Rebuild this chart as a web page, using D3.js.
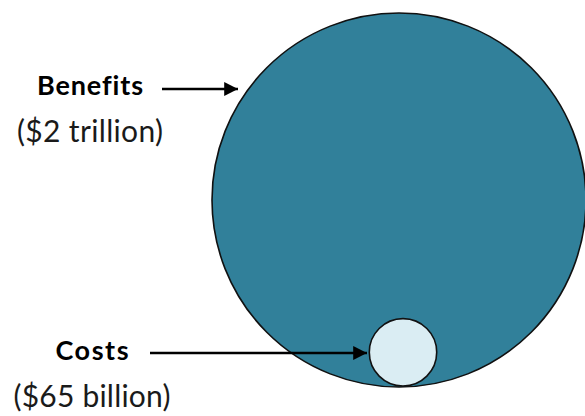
<!DOCTYPE html>
<html><head><meta charset="utf-8">
<script src="https://cdn.jsdelivr.net/npm/d3@7"></script>
<style>html,body{margin:0;padding:0;background:#fff;}svg{display:block;}text{font-variant-ligatures:none;}</style>
</head><body>
<svg id="chart" width="585" height="416"></svg>
<script>
const categories = ["Benefits", "Costs"];
const values = [2000, 65]; // billions of dollars
const amountLabels = ["($2 trillion)", "($65 billion)"];

const svg = d3.select("#chart");
const r = d3.scaleSqrt().domain([0, 2000]).range([0, 187]);
const fills = ["#31809a", "#daedf3"];

const bigC = {x: 399, y: 200};
const rb = r(values[0]), rs = r(values[1]);
const centers = [bigC, {x: 403, y: bigC.y + rb - rs - 1}];

svg.append("defs").append("marker")
  .attr("id", "ah").attr("viewBox", "0 0 10 10")
  .attr("refX", 10).attr("refY", 5)
  .attr("markerWidth", 7).attr("markerHeight", 6)
  .attr("markerUnits", "strokeWidth").attr("orient", "auto")
  .append("path").attr("d", "M0,0 L10,5 L0,10 Z").attr("fill", "#000");

svg.selectAll("circle.b").data(values).join("circle")
  .attr("class", "b")
  .attr("cx", (d, i) => centers[i].x)
  .attr("cy", (d, i) => centers[i].y)
  .attr("r", d => r(d))
  .attr("fill", (d, i) => fills[i])
  .attr("stroke", "#111").attr("stroke-width", 1.6);

const labelPos = [
  {x: 90, y1: 95, y2: 142, w1: 106, w2: 146, ax1: 162, ax2: 238, ay: 89},
  {x: 92, y1: 360, y2: 407, w1: 73, w2: 157, ax1: 150, ax2: 367, ay: 353}
];

const g = svg.selectAll("g.lab").data(categories).join("g").attr("class", "lab");
g.append("text")
  .attr("x", (d, i) => labelPos[i].x).attr("y", (d, i) => labelPos[i].y1)
  .attr("text-anchor", "middle")
  .attr("font-family", "Lato, 'Open Sans', sans-serif")
  .attr("font-weight", "bold").attr("font-size", 27)
  .attr("textLength", (d, i) => labelPos[i].w1).attr("lengthAdjust", "spacing")
  .attr("fill", "#000").text(d => d);
g.append("text")
  .attr("x", (d, i) => labelPos[i].x).attr("y", (d, i) => labelPos[i].y2)
  .attr("text-anchor", "middle")
  .attr("font-family", "Lato, 'Open Sans', sans-serif")
  .attr("font-size", 30)
  .attr("textLength", (d, i) => labelPos[i].w2).attr("lengthAdjust", "spacing")
  .attr("fill", "#1a1a1a").text((d, i) => amountLabels[i]);
g.append("line")
  .attr("x1", (d, i) => labelPos[i].ax1).attr("x2", (d, i) => labelPos[i].ax2)
  .attr("y1", (d, i) => labelPos[i].ay).attr("y2", (d, i) => labelPos[i].ay)
  .attr("stroke", "#000").attr("stroke-width", 2.3)
  .attr("marker-end", "url(#ah)");
</script>
</body></html>
